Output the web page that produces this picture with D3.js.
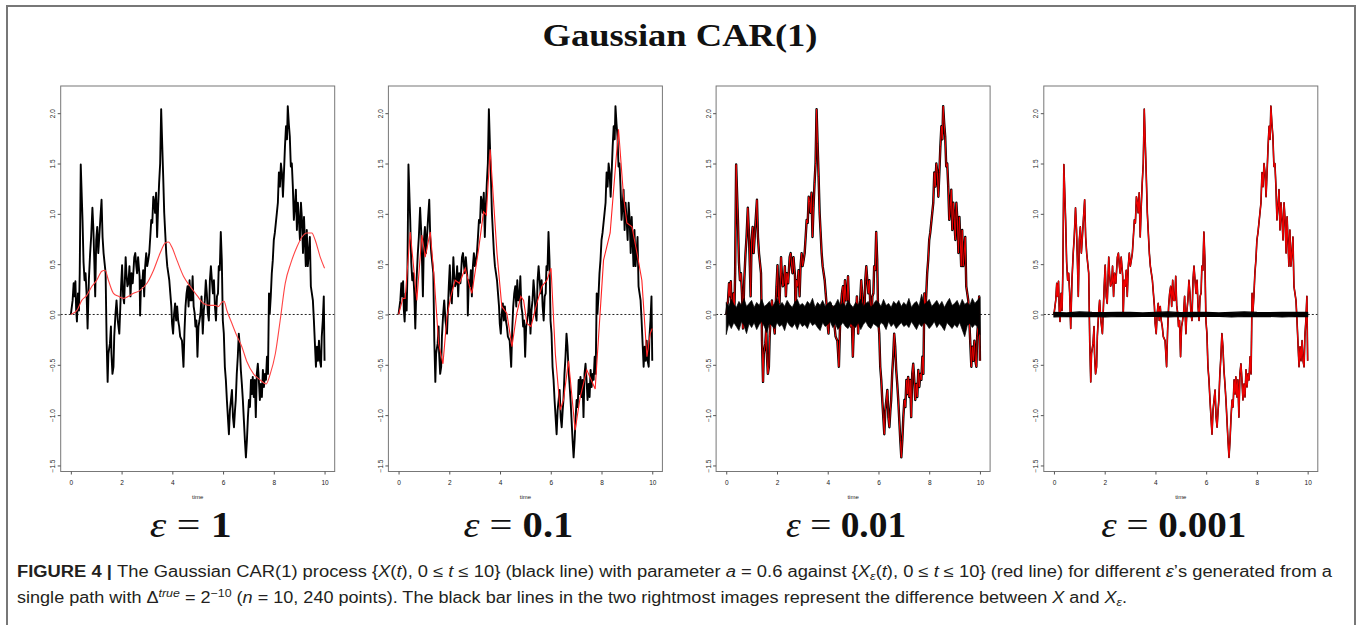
<!DOCTYPE html>
<html>
<head>
<meta charset="utf-8">
<script src="https://cdn.jsdelivr.net/npm/d3@7"></script>
<style>
  html, body { margin: 0; padding: 0; background: #fff; }
  svg { display: block; }
</style>
</head>
<body>
<svg id="chart" width="1360" height="625"></svg>
<script>
// ---------------- DATA ----------------
// X(t): the Gaussian CAR(1) path (same path in all four panels)
const pathT = [0,0.07,0.11,0.14,0.18,0.21,0.24,0.28,0.32,0.35,0.39,0.46,0.50,0.54,0.58,0.62,0.66,0.71,0.76,0.80,0.85,0.89,0.93,0.96,1.00,1.04,1.08,1.12,1.16,1.21,1.25,1.29,1.33,1.37,1.41,1.45,1.48,1.54,1.58,1.60,1.64,1.68,1.71,1.76,1.80,1.85,1.91,1.94,1.98,2.02,2.06,2.10,2.16,2.19,2.23,2.27,2.31,2.35,2.39,2.44,2.50,2.54,2.58,2.61,2.65,2.71,2.73,2.77,2.81,2.85,2.89,2.93,2.97,3.01,3.05,3.09,3.13,3.17,3.21,3.25,3.29,3.32,3.36,3.40,3.44,3.48,3.52,3.56,3.60,3.64,3.68,3.72,3.76,3.80,3.84,3.88,3.92,3.96,3.99,4.03,4.07,4.11,4.15,4.19,4.23,4.27,4.31,4.38,4.44,4.48,4.52,4.56,4.60,4.64,4.68,4.72,4.76,4.80,4.84,4.88,4.91,4.95,4.99,5.03,5.07,5.11,5.15,5.20,5.24,5.28,5.32,5.36,5.40,5.44,5.48,5.52,5.56,5.60,5.64,5.68,5.72,5.76,5.80,5.83,5.87,5.91,5.95,5.99,6.03,6.07,6.11,6.15,6.19,6.23,6.27,6.31,6.35,6.39,6.43,6.47,6.50,6.54,6.58,6.62,6.66,6.70,6.74,6.78,6.82,6.86,6.90,6.94,6.98,7.02,7.06,7.10,7.14,7.17,7.21,7.25,7.29,7.33,7.37,7.41,7.45,7.49,7.53,7.57,7.61,7.65,7.69,7.73,7.77,7.81,7.84,7.88,7.92,7.96,8.00,8.04,8.08,8.12,8.16,8.20,8.24,8.28,8.32,8.36,8.40,8.44,8.48,8.52,8.55,8.59,8.63,8.67,8.71,8.75,8.79,8.83,8.87,8.91,8.95,8.99,9.03,9.07,9.11,9.15,9.19,9.22,9.26,9.30,9.34,9.38,9.42,9.46,9.50,9.54,9.58,9.62,9.66,9.70,9.74,9.78,9.82,9.86,9.89,9.93,9.97,10.00];
const pathX = [0,0.14,0.31,0.18,0.33,0.04,-0.07,0.21,0.04,0.41,1.49,0.94,0.52,0.34,0.41,0.21,-0.14,0.34,0.61,0.77,1.06,0.84,0.48,0.18,0.74,0.87,0.61,0.77,0.94,1.14,0.77,0.61,0.51,0.41,-0.26,-0.67,-0.39,-0.29,-0.12,-0.39,-0.59,-0.52,-0.22,0.01,0.14,-0.06,-0.19,0.01,0.28,0.49,0.18,0.11,0.57,0.41,0.28,0.31,0.48,0.18,0.41,0.31,0.57,0.61,0.48,0.41,0.57,0.38,-0.01,0.34,0.28,0.44,0.18,0.48,0.61,0.48,0.54,0.61,0.77,0.94,0.91,1.17,1.11,1.01,1.21,0.77,1.07,1.31,1.50,2.04,1.70,1.37,1.01,0.81,0.61,0.48,0.41,0.34,0.21,0.08,-0.09,-0.19,0.01,0.11,-0.06,0.08,-0.06,-0.12,-0.22,-0.26,-0.52,-0.16,0.08,0.21,0.28,0.08,0.34,0.14,0.14,0.38,0.08,0.01,-0.12,-0.06,-0.42,-0.12,-0.06,0.01,0.18,-0.19,0.04,0.14,0.34,0.21,0.01,-0.06,0.34,0.48,0.34,0.21,0.34,0.08,-0.06,0.18,0.21,0.48,0.44,0.82,0.54,-0.06,-0.19,-0.52,-0.65,-0.85,-1.02,-1.19,-0.95,-0.85,-0.75,-1.02,-1.12,-0.95,-0.85,-0.59,-0.42,-0.19,-0.32,-0.55,-0.69,-0.85,-1.05,-1.25,-1.42,-1.25,-1.02,-0.85,-0.92,-0.65,-0.79,-0.62,-0.82,-0.65,-1.02,-0.59,-0.49,-0.65,-0.85,-0.69,-0.82,-0.55,-0.72,-0.59,-0.65,-0.42,-0.59,0.21,0.01,0.18,0.41,0.54,0.74,0.81,0.91,1.01,1.11,1.41,1.27,1.50,1.41,1.17,1.41,1.67,1.87,1.74,2.07,1.90,1.77,1.47,1.50,1.27,0.94,1.07,1.24,0.84,1.11,0.94,0.74,1.11,0.94,0.61,0.97,0.77,0.48,0.84,0.48,0.61,0.77,0.28,0.21,0.14,-0.06,-0.29,-0.52,-0.32,-0.46,-0.26,-0.46,-0.52,-0.22,-0.06,0.18,-0.46];

// X_eps for eps = 1 (smooth red curve, panel 1)
const smoothT = [0,0.24,0.43,0.63,0.83,1.02,1.22,1.35,1.48,1.68,1.88,2.08,2.27,2.47,2.73,3.00,3.26,3.52,3.72,3.85,3.98,4.18,4.44,4.70,4.97,5.23,5.49,5.69,5.82,5.95,6.04,6.15,6.35,6.54,6.74,6.94,7.20,7.46,7.70,7.86,8.06,8.25,8.45,8.67,8.91,9.11,9.30,9.50,9.63,9.83,10.00];
const smoothX = [0,0.04,0.14,0.19,0.28,0.34,0.43,0.44,0.34,0.21,0.18,0.16,0.18,0.21,0.24,0.31,0.44,0.61,0.71,0.72,0.67,0.54,0.38,0.28,0.19,0.11,0.09,0.09,0.08,0.12,0.13,0.04,-0.09,-0.21,-0.32,-0.47,-0.59,-0.65,-0.69,-0.59,-0.39,-0.06,0.31,0.51,0.67,0.77,0.81,0.81,0.74,0.57,0.46];

// X_eps for eps = 0.1 (red line, panel 2)
const coarseT = [0,0.17,0.26,0.46,0.72,0.92,1.05,1.25,1.41,1.58,1.75,1.91,2.06,2.23,2.40,2.63,2.80,2.89,3.15,3.35,3.46,3.61,3.88,4.07,4.27,4.47,4.66,4.82,4.93,5.06,5.22,5.32,5.45,5.65,5.85,6.01,6.18,6.37,6.50,6.70,6.96,7.16,7.42,7.75,8.08,8.34,8.67,8.87,9.00,9.20,9.40,9.59,9.79,9.92,10.00];
const coarseX = [0,0.16,0.16,0.82,0.14,0.79,0.57,0.82,0.34,-0.29,-0.49,-0.02,0.18,0.34,0.31,0.46,0.28,0.21,0.64,1.02,0.99,1.64,0.61,0.08,0.01,-0.32,0.01,0.18,0.14,-0.09,-0.12,-0.02,0.11,0.28,0.34,0.46,-0.39,-0.95,-0.85,-0.46,-1.15,-0.82,-0.55,-0.74,0.54,0.81,1.84,1.17,0.91,0.87,0.61,0.34,-0.42,-0.19,-0.14];

// X - X_eps for eps = 0.01 (black band, panel 3): upper / lower envelope
const band3T = [0,0.1,0.2,0.3,0.4,0.5,0.6,0.7,0.8,0.9,1.0,1.1,1.2,1.3,1.4,1.5,1.6,1.7,1.8,1.9,2.0,2.1,2.2,2.3,2.4,2.5,2.6,2.7,2.8,2.9,3.0,3.1,3.2,3.3,3.4,3.5,3.6,3.7,3.8,3.9,4.0,4.1,4.2,4.3,4.4,4.5,4.6,4.7,4.8,4.9,5.0,5.1,5.2,5.3,5.4,5.5,5.6,5.7,5.8,5.9,6.0,6.1,6.2,6.3,6.4,6.5,6.6,6.7,6.8,6.9,7.0,7.1,7.2,7.3,7.4,7.5,7.6,7.7,7.8,7.9,8.0,8.1,8.2,8.3,8.4,8.5,8.6,8.7,8.8,8.9,9.0,9.1,9.2,9.3,9.4,9.5,9.6,9.7,9.8,9.9,10.0];
const band3Up = [0.12,0.08,0.15,0.10,0.07,0.13,0.09,0.16,0.08,0.11,
  0.14,0.07,0.12,0.09,0.15,0.08,0.10,0.13,0.07,0.11,
  0.16,0.09,0.12,0.08,0.14,0.10,0.07,0.12,0.15,0.09,
  0.11,0.08,0.13,0.10,0.16,0.07,0.12,0.09,0.14,0.08,
  0.11,0.13,0.07,0.10,0.15,0.09,0.12,0.08,0.14,0.10,
  0.07,0.12,0.09,0.15,0.08,0.11,0.13,0.07,0.10,0.14,
  0.12,0.08,0.15,0.09,0.11,0.07,0.13,0.10,0.14,0.08,
  0.12,0.09,0.16,0.07,0.11,0.13,0.08,0.20,0.10,0.12,
  0.15,0.08,0.11,0.14,0.09,0.13,0.07,0.12,0.16,0.09,
  0.11,0.14,0.08,0.15,0.10,0.12,0.09,0.16,0.11,0.14,0.17];
const band3Lo = [-0.20,-0.09,-0.14,-0.08,-0.12,-0.16,-0.07,-0.11,-0.19,-0.09,
  -0.13,-0.08,-0.15,-0.10,-0.07,-0.12,-0.18,-0.09,-0.11,-0.14,
  -0.08,-0.12,-0.10,-0.16,-0.07,-0.11,-0.13,-0.09,-0.15,-0.08,
  -0.12,-0.10,-0.14,-0.07,-0.11,-0.09,-0.13,-0.16,-0.08,-0.12,
  -0.10,-0.07,-0.13,-0.09,-0.15,-0.11,-0.08,-0.12,-0.14,-0.09,
  -0.11,-0.13,-0.08,-0.15,-0.10,-0.07,-0.12,-0.14,-0.09,-0.11,
  -0.13,-0.08,-0.10,-0.15,-0.07,-0.12,-0.09,-0.14,-0.11,-0.08,
  -0.12,-0.10,-0.13,-0.07,-0.11,-0.15,-0.09,-0.12,-0.08,-0.10,
  -0.14,-0.11,-0.07,-0.13,-0.09,-0.12,-0.16,-0.08,-0.11,-0.14,
  -0.10,-0.13,-0.08,-0.15,-0.22,-0.11,-0.09,-0.13,-0.10,-0.12,-0.20];

// X - X_eps for eps = 0.001 (black band, panel 4)
const band4T = [0,0.5,1.0,1.5,2.0,2.5,3.0,3.5,4.0,4.5,5.0,5.5,6.0,6.5,7.0,7.5,8.0,8.5,9.0,9.5,10.0];
const band4Up = [0.020,0.015,0.025,0.020,0.018,0.022,0.020,0.015,0.020,0.025,0.018,0.020,0.022,0.015,0.020,0.025,0.020,0.018,0.022,0.020,0.020];
const band4Lo = [-0.025,-0.020,-0.022,-0.018,-0.025,-0.020,-0.022,-0.020,-0.018,-0.025,-0.020,-0.022,-0.020,-0.018,-0.025,-0.020,-0.022,-0.020,-0.025,-0.020,-0.022];

const xTicks = [0, 2, 4, 6, 8, 10];
const yTicks = [-1.5, -1.0, -0.5, 0.0, 0.5, 1.0, 1.5, 2.0];
const epsLabels = ["1", "0.1", "0.01", "0.001"];
const titleText = "Gaussian CAR(1)";

// ---------------- DRAWING ----------------
const svg = d3.select("#chart");
const zip = (ts, vs) => ts.map((t, i) => ({t: t, v: vs[i]}));
const pathData = zip(pathT, pathX);
const smoothData = zip(smoothT, smoothX);
const coarseData = zip(coarseT, coarseX);
const band3 = band3T.map((t, i) => ({t: t, hi: band3Up[i], lo: band3Lo[i]}));
const band4 = band4T.map((t, i) => ({t: t, hi: band4Up[i], lo: band4Lo[i]}));

// outer figure frame
svg.append("path")
  .attr("d", "M7,625 V6 H1355 V625")
  .attr("fill", "none").attr("stroke", "#777").attr("stroke-width", 2);

// title
svg.append("text")
  .attr("x", 680).attr("y", 46)
  .attr("text-anchor", "middle")
  .attr("font-family", "'Liberation Serif', 'DejaVu Serif', serif")
  .attr("font-weight", "bold")
  .attr("font-size", 32)
  .attr("textLength", 275).attr("lengthAdjust", "spacingAndGlyphs")
  .attr("fill", "#111")
  .text(titleText);

const panelW = 274, plotTop = 86, plotBottom = 471.5;

epsLabels.forEach((eps, i) => {
  const left = 60.7 + i * 327.7;
  const x = d3.scaleLinear().domain([-0.4, 10.4]).range([left, left + panelW]);
  const y = d3.scaleLinear().domain([-1.56, 2.27]).range([plotBottom, plotTop]);
  const g = svg.append("g");

  const line = d3.line().x(d => x(d.t)).y(d => y(d.v));

  // dotted zero line
  g.append("line")
    .attr("x1", left).attr("x2", left + panelW)
    .attr("y1", y(0)).attr("y2", y(0))
    .attr("stroke", "#222").attr("stroke-width", 1)
    .attr("stroke-dasharray", "2,2");

  if (i === 0) {
    g.append("path").datum(pathData).attr("d", line)
      .attr("fill", "none").attr("stroke", "#000").attr("stroke-width", 1.9)
      .attr("stroke-linejoin", "round");
    g.append("path").datum(smoothData)
      .attr("d", d3.line().x(d => x(d.t)).y(d => y(d.v)).curve(d3.curveMonotoneX))
      .attr("fill", "none").attr("stroke", "#f44").attr("stroke-width", 1.1);
  } else if (i === 1) {
    g.append("path").datum(pathData).attr("d", line)
      .attr("fill", "none").attr("stroke", "#000").attr("stroke-width", 1.9)
      .attr("stroke-linejoin", "round");
    g.append("path").datum(coarseData).attr("d", line)
      .attr("fill", "none").attr("stroke", "#f22").attr("stroke-width", 1.1);
  } else {
    const band = i === 2 ? band3 : band4;
    g.append("path").datum(pathData).attr("d", line)
      .attr("fill", "none").attr("stroke", "#000")
      .attr("stroke-width", i === 2 ? 2.4 : 1.6).attr("stroke-linejoin", "round");
    g.append("path").datum(pathData).attr("d", line)
      .attr("fill", "none").attr("stroke", "#e00")
      .attr("stroke-width", i === 2 ? 1.0 : 1.3).attr("stroke-linejoin", "round");
    g.append("path").datum(band)
      .attr("d", d3.area().x(d => x(d.t)).y0(d => y(d.lo)).y1(d => y(d.hi)))
      .attr("fill", "#000").attr("stroke", "#000").attr("stroke-width", i === 2 ? 0.7 : 1.2)
      .attr("stroke-linejoin", "round");
  }

  // box
  g.append("rect")
    .attr("x", left).attr("y", plotTop)
    .attr("width", panelW).attr("height", plotBottom - plotTop)
    .attr("fill", "none").attr("stroke", "#777").attr("stroke-width", 1);

  // y axis
  const ya = g.append("g").attr("transform", `translate(${left},0)`)
    .call(d3.axisLeft(y).tickValues(yTicks).tickFormat(d3.format(".1f")).tickSize(3).tickPadding(3));
  ya.select(".domain").remove();
  ya.selectAll("line").attr("stroke", "#555");
  ya.selectAll("text")
    .attr("x", null).attr("dy", null)
    .attr("text-anchor", "middle")
    .attr("transform", "translate(-5.5,0) rotate(-90)")
    .attr("font-family", "'Liberation Sans', Arial, sans-serif")
    .attr("font-size", 6.5).attr("fill", "#222");

  // x axis
  const xa = g.append("g").attr("transform", `translate(0,${plotBottom})`)
    .call(d3.axisBottom(x).tickValues(xTicks).tickFormat(d3.format("d")).tickSize(3).tickPadding(6));
  xa.select(".domain").remove();
  xa.selectAll("line").attr("stroke", "#555");
  xa.selectAll("text")
    .attr("font-family", "'Liberation Sans', Arial, sans-serif")
    .attr("font-size", 6.5).attr("fill", "#222");

  g.append("text")
    .attr("x", x(5)).attr("y", 499)
    .attr("text-anchor", "middle")
    .attr("font-family", "'Liberation Sans', Arial, sans-serif")
    .attr("font-size", 6).attr("fill", "#222")
    .text("time");

  // epsilon label
  const widths = [82, 110, 120, 145];
  const et = g.append("text")
    .attr("x", left + panelW / 2 - 7).attr("y", 537)
    .attr("text-anchor", "middle")
    .attr("font-family", "'Liberation Serif', 'DejaVu Serif', serif")
    .attr("font-size", 36).attr("fill", "#111")
    .attr("textLength", widths[i]).attr("lengthAdjust", "spacingAndGlyphs");
  et.append("tspan").attr("font-style", "italic").text("ε");
  et.append("tspan").text(" = ");
  et.append("tspan").attr("font-weight", "bold").text(eps);
});

// caption
const cap = svg.append("g")
  .attr("font-family", "'Liberation Sans', Arial, sans-serif")
  .attr("font-size", 16).attr("fill", "#231f20");

const l1 = cap.append("text").attr("x", 17).attr("y", 577)
  .attr("textLength", 1315).attr("lengthAdjust", "spacingAndGlyphs");
const seg = (t, parts) => parts.forEach(p => {
  const s = t.append("tspan").text(p[0]);
  if (p[1] === "b") s.attr("font-weight", "bold");
  if (p[1] === "i") s.attr("font-style", "italic");
  if (p[1] === "sub") s.attr("font-style", "italic").attr("font-size", 11).attr("dy", 3);
  if (p[1] === "up") s.attr("dy", -3);
  if (p[1] === "sup") s.attr("font-style", "italic").attr("font-size", 11).attr("dy", -6);
  if (p[1] === "supn") s.attr("font-size", 11).attr("dy", -6);
  if (p[1] === "down") s.attr("dy", 6);
});
seg(l1, [
  ["FIGURE 4 | ", "b"], ["The Gaussian CAR(1) process {"], ["X", "i"], ["("], ["t", "i"], ["), 0 ≤ "],
  ["t", "i"], [" ≤ 10} (black line) with parameter "], ["a", "i"], [" = 0.6 against {"], ["X", "i"],
  ["ε", "sub"], ["(", "up"], ["t", "i"], ["), 0 ≤ "], ["t", "i"],
  [" ≤ 10} (red line) for different "], ["ε", "i"], ["’s generated from a"]
]);

const l2 = cap.append("text").attr("x", 17).attr("y", 603)
  .attr("textLength", 1110).attr("lengthAdjust", "spacingAndGlyphs");
seg(l2, [
  ["single path with Δ"], ["true", "sup"], [" = 2", "down"], ["−10", "supn"], [" (", "down"], ["n", "i"],
  [" = 10, 240 points). The black bar lines in the two rightmost images represent the difference between "],
  ["X", "i"], [" and "], ["X", "i"], ["ε", "sub"], [".", "up"]
]);
</script>
</body>
</html>
